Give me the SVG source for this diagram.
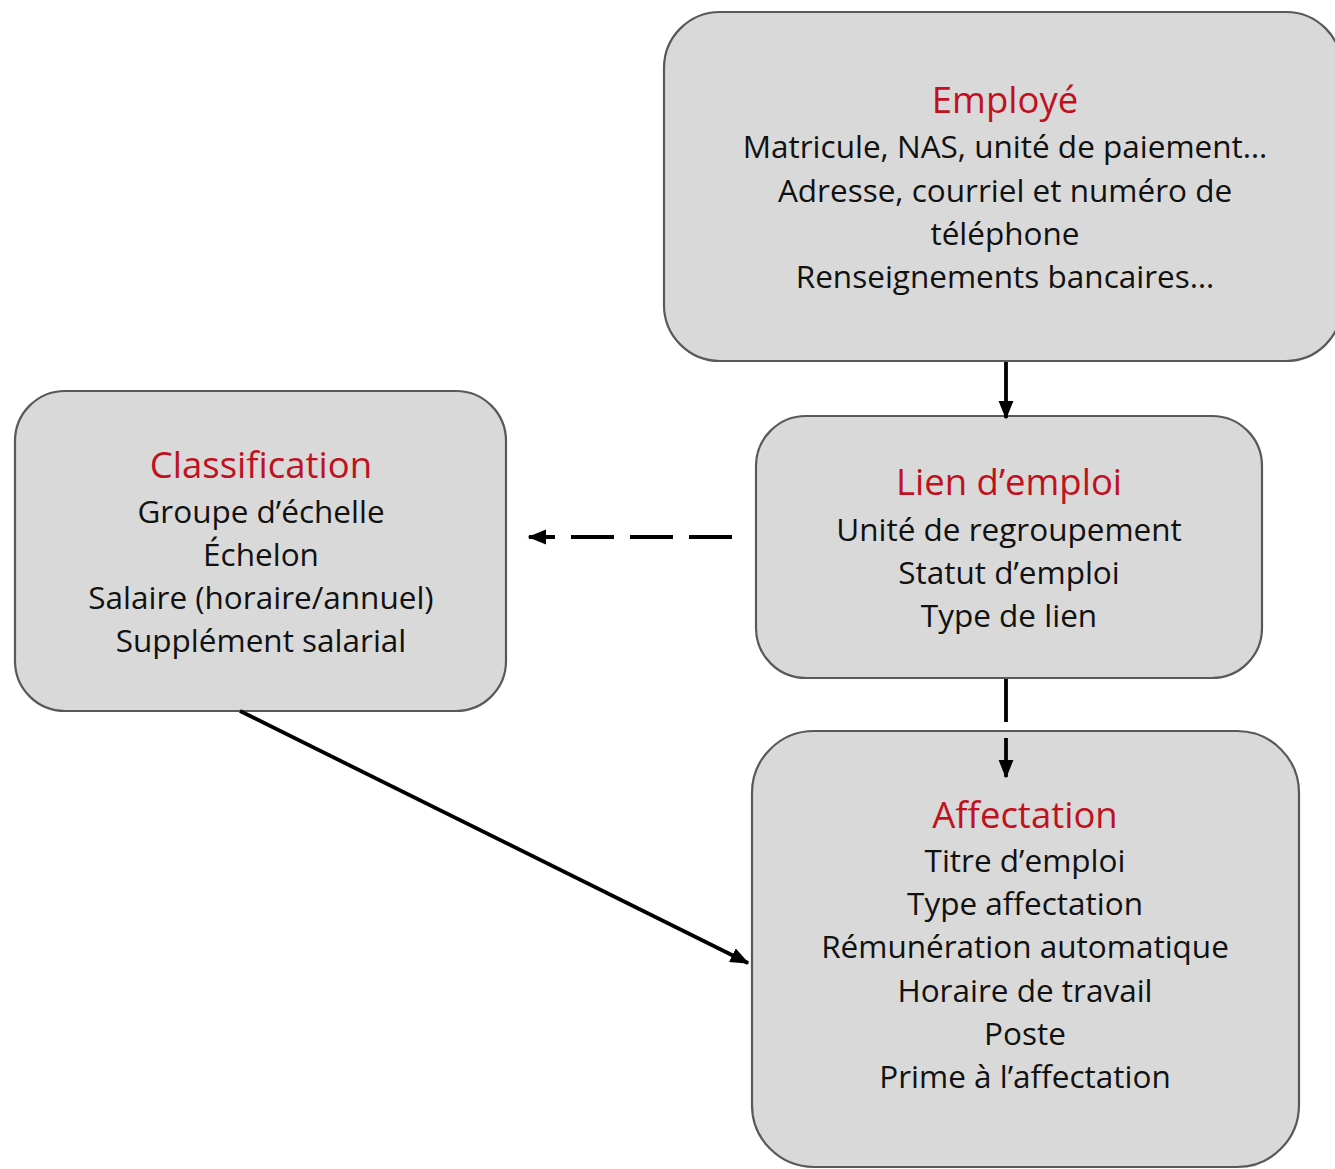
<svg xmlns="http://www.w3.org/2000/svg" width="1335" height="1169" viewBox="0 0 1335 1169">
<defs>
<style>
.box{fill:#d9d9d9;stroke:#595959;stroke-width:2.2}
.t{font-family:"Open Sans","Noto Sans",sans-serif;font-size:36.5px;fill:#c0111f;text-anchor:middle}
.b{font-family:"Open Sans","Noto Sans",sans-serif;font-size:31.5px;fill:#111111;text-anchor:middle}
.ln{stroke:#000;stroke-width:3.8;fill:none}
</style>
<marker id="ah" markerWidth="5" markerHeight="4" refX="4.6" refY="2" orient="auto" markerUnits="strokeWidth">
<path d="M0,0 L5,2 L0,4 Z" fill="#000"/>
</marker>
</defs>
<rect width="1335" height="1169" fill="#ffffff"/>
<g id="employe">
<rect class="box" x="664" y="12" width="678" height="349" rx="56" ry="56"/>
<text class="t" x="1005" y="113">Employé</text>
<text class="b" x="1005" y="158">Matricule, NAS, unité de paiement…</text>
<text class="b" x="1005" y="202">Adresse, courriel et numéro de</text>
<text class="b" x="1005" y="245">téléphone</text>
<text class="b" x="1005" y="288">Renseignements bancaires…</text>
</g>
<g id="lien">
<rect class="box" x="756" y="416" width="506" height="262" rx="50" ry="50"/>
<text class="t" x="1009" y="495">Lien d’emploi</text>
<text class="b" x="1009" y="541">Unité de regroupement</text>
<text class="b" x="1009" y="584">Statut d’emploi</text>
<text class="b" x="1009" y="627">Type de lien</text>
</g>
<g id="classification">
<rect class="box" x="15" y="391" width="491" height="320" rx="50" ry="50"/>
<text class="t" x="261" y="478">Classification</text>
<text class="b" x="261" y="523">Groupe d’échelle</text>
<text class="b" x="261" y="566">Échelon</text>
<text class="b" x="261" y="609">Salaire (horaire/annuel)</text>
<text class="b" x="261" y="652">Supplément salarial</text>
</g>
<g id="affectation">
<rect class="box" x="752" y="731" width="547" height="436" rx="62" ry="62"/>
<text class="t" x="1025" y="828">Affectation</text>
<text class="b" x="1025" y="872">Titre d’emploi</text>
<text class="b" x="1025" y="915">Type affectation</text>
<text class="b" x="1025" y="958">Rémunération automatique</text>
<text class="b" x="1025" y="1002">Horaire de travail</text>
<text class="b" x="1025" y="1045">Poste</text>
<text class="b" x="1025" y="1088">Prime à l’affectation</text>
</g>
<g id="connectors">
<line class="ln" x1="1006" y1="362" x2="1006" y2="418" marker-end="url(#ah)"/>
<line class="ln" x1="1006" y1="679" x2="1006" y2="722"/>
<line class="ln" x1="1006" y1="738" x2="1006" y2="777" marker-end="url(#ah)"/>
<line class="ln" x1="732" y1="537" x2="529" y2="537" stroke-width="4" stroke-dasharray="43 16" marker-end="url(#ah)"/>
<line class="ln" x1="240" y1="711" x2="748" y2="963" marker-end="url(#ah)"/>
</g>
</svg>
